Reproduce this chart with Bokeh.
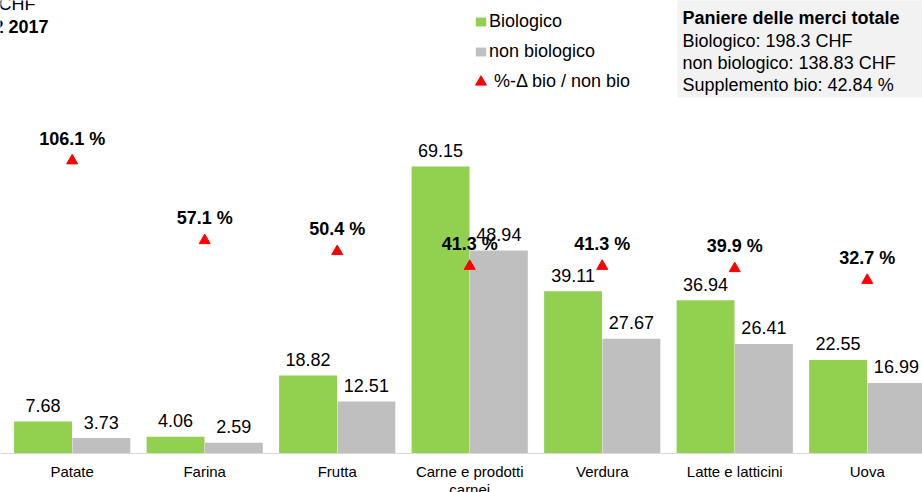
from bokeh.plotting import figure
from bokeh.models import (Range1d, Label, BoxAnnotation, Legend, Span,
                          LegendItem, ColumnDataSource)
from bokeh.core.properties import value
from bokeh.transform import dodge
from bokeh.embed import file_html
from bokeh.resources import INLINE

# ---------------- data ----------------
categories = ["Patate", "Farina", "Frutta", "Carne e prodotti carnei",
              "Verdura", "Latte e latticini", "Uova"]
tick_labels = ["Patate", "Farina", "Frutta", "Carne e prodotti\ncarnei",
               "Verdura", "Latte e latticini", "Uova"]
bio = [7.68, 4.06, 18.82, 69.15, 39.11, 36.94, 22.55]
non_bio = [3.73, 2.59, 12.51, 48.94, 27.67, 26.41, 16.99]
pct_delta = [106.1, 57.1, 50.4, 41.3, 41.3, 39.9, 32.7]

total_bio = 198.3
total_non_bio = 138.83
supplement = 42.84

series_names = ["Biologico", "non biologico", "%-\u0394 bio / non bio"]
title_lines = ["CHF", "2 2017"]

FONT = "Liberation Sans"
GREEN = "#92d050"
GRAY = "#bfbfbf"
RED = "#ff0000"

xs = [i + 0.5 for i in range(len(categories))]
src = ColumnDataSource(dict(
    x=xs, cat=categories, tick=tick_labels, base=[0] * len(categories),
    bio=bio, non_bio=non_bio, pct=pct_delta,
    bio_lbl=[f"{v:.2f}" for v in bio],
    non_lbl=[f"{v:.2f}" for v in non_bio],
    pct_lbl=[f"{v:.1f} %" for v in pct_delta],
))

W, H = 922, 492
p = figure(width=W, height=H, output_backend="svg", toolbar_location=None,
           x_range=Range1d(-0.0411, 6.917), y_range=Range1d(-9.40, 109.16),
           x_axis_location=None, y_axis_location=None,
           min_border_left=0, min_border_right=0, min_border_top=0,
           min_border_bottom=0, outline_line_color=None,
           background_fill_color="white", border_fill_color="white")
p.extra_y_ranges = {"pct": Range1d(-97.7, 204.5)}
p.xgrid.grid_line_color = None
p.ygrid.grid_line_color = None

off = 0.22
w = 0.437
r_bio = p.vbar(x=dodge("x", -off, range=p.x_range), top="bio", width=w, bottom=0,
               source=src, fill_color=GREEN, line_color=None)
r_non = p.vbar(x=dodge("x", off, range=p.x_range), top="non_bio", width=w, bottom=0,
               source=src, fill_color=GRAY, line_color=None)

# category axis line and labels
p.add_layout(Span(location=0, dimension="width", line_color="#d9d9d9", line_width=1))
p.text(x="x", y="base", text="tick", source=src, text_align="center",
       text_baseline="top", y_offset=10, text_font=value(FONT),
       text_font_size="15px", text_color="#000000", text_line_height=1.05)

lbl_style = dict(text_align="center", text_baseline="alphabetic",
                 text_font=value(FONT), text_font_size="18px", text_color="#000000")
p.text(x=dodge("x", -off, range=p.x_range), y="bio", text="bio_lbl", source=src,
       y_offset=-16, **lbl_style)
p.text(x=dodge("x", off, range=p.x_range), y="non_bio", text="non_lbl", source=src,
       y_offset=-16, **lbl_style)

r_pct = p.scatter(x="x", y="pct", source=src, marker="triangle", size=11,
                  fill_color=RED, line_color=RED, y_range_name="pct")
p.text(x="x", y="pct", text="pct_lbl", source=src, y_range_name="pct",
       y_offset=-22, text_font_style="bold", **lbl_style)

# legends (screen y measured from the frame bottom)
legend_common = dict(padding=0, margin=0, border_line_color=None,
                     background_fill_alpha=0, label_text_font=FONT,
                     label_text_font_size="18px", label_text_color="#000000",
                     label_height=20)
legend_bars = Legend(items=[LegendItem(label=series_names[0], renderers=[r_bio]),
                            LegendItem(label=series_names[1], renderers=[r_non])],
                     location=(474, H - 62), glyph_width=13, glyph_height=11,
                     label_standoff=2, spacing=9, **legend_common)
legend_tri = Legend(items=[LegendItem(label=series_names[2], renderers=[r_pct])],
                    location=(467, H - 95), glyph_width=27, glyph_height=27,
                    label_standoff=-5, **legend_common)
p.add_layout(legend_bars)
p.add_layout(legend_tri)

# summary box
p.add_layout(BoxAnnotation(left=677, right=W + 5, top=H + 10, bottom=H - 97,
                           left_units="screen", right_units="screen",
                           top_units="screen", bottom_units="screen",
                           fill_color="#f2f2f2", fill_alpha=1, line_color=None,
                           level="underlay"))
box_lines = [("Paniere delle merci totale", "bold", 17.5),
             (f"Biologico: {total_bio} CHF", "normal", 40),
             (f"non biologico: {total_non_bio} CHF", "normal", 62),
             (f"Supplemento bio: {supplement} %", "normal", 84.5)]
for txt, style, base in box_lines:
    p.add_layout(Label(x=682, y=H - base, x_units="screen", y_units="screen",
                       text=txt, text_font=FONT, text_font_size="18px",
                       text_font_style=style, text_baseline="alphabetic",
                       text_color="#000000"))

# title fragments (cut at the left edge in the original)
p.add_layout(Label(x=-2, y=H - 3, x_units="screen", y_units="screen",
                   text=title_lines[0], text_font=FONT, text_font_size="18px",
                   text_baseline="alphabetic", text_color="#000000"))
p.add_layout(Label(x=-7, y=H - 26, x_units="screen", y_units="screen",
                   text=title_lines[1], text_font=FONT, text_font_size="18px",
                   text_font_style="bold", text_baseline="alphabetic",
                   text_color="#000000"))

open("out.html", "w").write(file_html(p, INLINE))
